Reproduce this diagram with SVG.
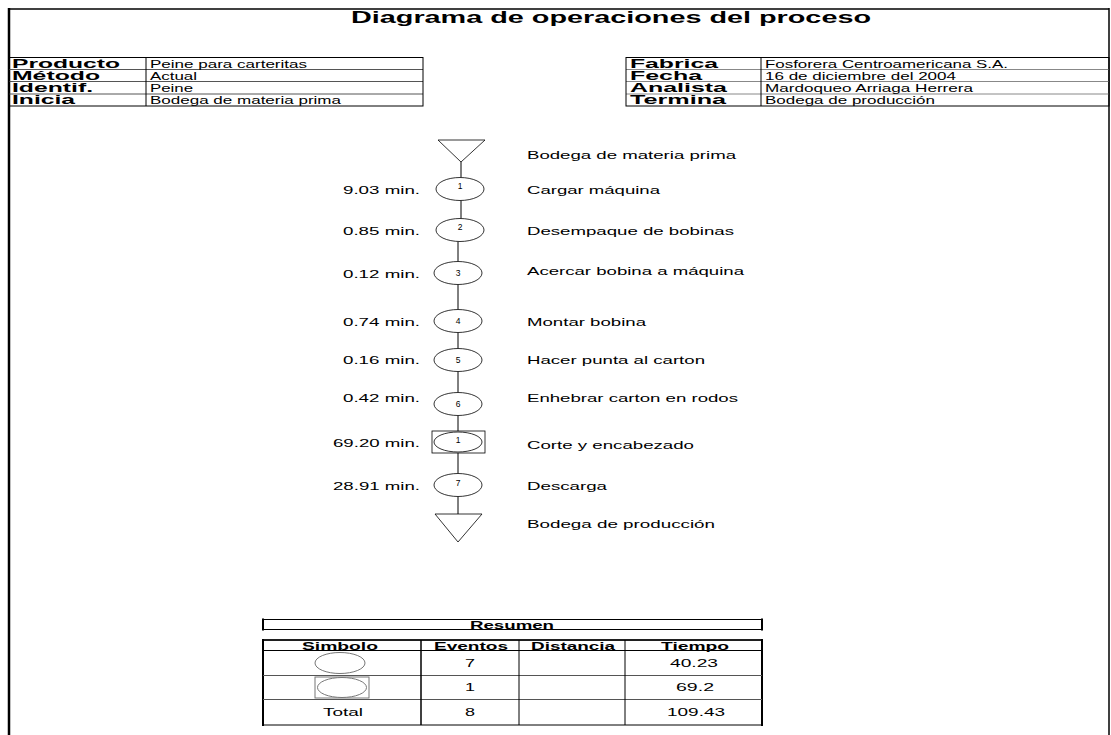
<svg xmlns="http://www.w3.org/2000/svg" width="1111" height="735" viewBox="0 0 1111 735">
  <style>
    .cell { fill: none; stroke: #000; stroke-width: 1; }
    .inner { stroke: #555; stroke-width: 1; }
    .innerR { stroke: #888; stroke-width: 1; }
    .title { font: bold 16px "Liberation Sans", Arial, sans-serif; fill: #000; }
    .lbl { font: bold 12px "Liberation Sans", Arial, sans-serif; fill: #000; }
    .val { font: 10.5px "Liberation Sans", Arial, sans-serif; fill: #000; }
    .flow { font: 11.5px "Liberation Sans", Arial, sans-serif; fill: #000; }
    .time { font: 11.5px "Liberation Sans", Arial, sans-serif; fill: #000; text-anchor: end; }
    .num { font: 8.5px "Liberation Sans", Arial, sans-serif; fill: #000; text-anchor: middle; }
    .op { fill: #fff; stroke: #000; stroke-width: 0.8; }
    .sym { fill: #fff; stroke: #777; stroke-width: 1; }
    .th { font: bold 10.5px "Liberation Sans", Arial, sans-serif; fill: #000; text-anchor: middle; }
    .td { font: 11px "Liberation Sans", Arial, sans-serif; fill: #000; text-anchor: middle; }
    .conn line { stroke: #000; stroke-width: 1; }
  </style>

  <rect width="1111" height="735" fill="#fff"/>

  <!-- page frame -->
  <line x1="9" y1="9" x2="1109" y2="9" stroke="#000" stroke-width="1.5"/>
  <line x1="9" y1="8" x2="9" y2="735" stroke="#000" stroke-width="2.5"/>
  <line x1="1109" y1="8" x2="1109" y2="735" stroke="#000" stroke-width="1.5"/>

  <text class="title" x="351" y="23" textLength="520" lengthAdjust="spacingAndGlyphs">Diagrama de operaciones del proceso</text>

  <!-- header info, left -->
  <g id="info-left">
    <line class="inner" x1="9" y1="69.5" x2="423" y2="69.5"/>
    <line class="inner" x1="9" y1="81.5" x2="423" y2="81.5"/>
    <line class="inner" x1="9" y1="94" x2="423" y2="94"/>
    <line class="cell" x1="146" y1="57.5" x2="146" y2="106"/>
    <rect class="cell" x="9" y="57.5" width="414" height="48.5" stroke-width="1.3"/>
    <text class="lbl" x="12" y="67.5" textLength="108" lengthAdjust="spacingAndGlyphs">Producto</text>
    <text class="lbl" x="12" y="79.5" textLength="88" lengthAdjust="spacingAndGlyphs">Método</text>
    <text class="lbl" x="12" y="92" textLength="81" lengthAdjust="spacingAndGlyphs">Identif.</text>
    <text class="lbl" x="12" y="104" textLength="63" lengthAdjust="spacingAndGlyphs">Inicia</text>
    <text class="val" x="150" y="67.5" textLength="157" lengthAdjust="spacingAndGlyphs">Peine para carteritas</text>
    <text class="val" x="150" y="79.5" textLength="47" lengthAdjust="spacingAndGlyphs">Actual</text>
    <text class="val" x="150" y="92" textLength="43" lengthAdjust="spacingAndGlyphs">Peine</text>
    <text class="val" x="150" y="104" textLength="191" lengthAdjust="spacingAndGlyphs">Bodega de materia prima</text>
  </g>

  <!-- header info, right -->
  <g id="info-right">
    <line class="innerR" x1="626" y1="69.5" x2="1109" y2="69.5"/>
    <line class="innerR" x1="626" y1="81.5" x2="1109" y2="81.5"/>
    <line class="innerR" x1="626" y1="94" x2="1109" y2="94"/>
    <line class="cell" x1="761" y1="57.5" x2="761" y2="106"/>
    <rect class="cell" x="626" y="57.5" width="483" height="48.5" stroke-width="1.3"/>
    <text class="lbl" x="630" y="67.5" textLength="88" lengthAdjust="spacingAndGlyphs">Fabrica</text>
    <text class="lbl" x="630" y="79.5" textLength="72" lengthAdjust="spacingAndGlyphs">Fecha</text>
    <text class="lbl" x="630" y="92" textLength="97" lengthAdjust="spacingAndGlyphs">Analista</text>
    <text class="lbl" x="630" y="104" textLength="96" lengthAdjust="spacingAndGlyphs">Termina</text>
    <text class="val" x="765" y="67.5" textLength="243" lengthAdjust="spacingAndGlyphs">Fosforera Centroamericana S.A.</text>
    <text class="val" x="765" y="79.5" textLength="191" lengthAdjust="spacingAndGlyphs">16 de diciembre del 2004</text>
    <text class="val" x="765" y="92" textLength="208" lengthAdjust="spacingAndGlyphs">Mardoqueo Arriaga Herrera</text>
    <text class="val" x="765" y="104" textLength="170" lengthAdjust="spacingAndGlyphs">Bodega de producción</text>
  </g>

  <!-- connectors between process steps -->
  <g id="connectors" class="conn">
    <line x1="461" y1="162" x2="461" y2="177.5"/>
    <line x1="461" y1="200.5" x2="461" y2="218.5"/>
    <line x1="458" y1="241.5" x2="458" y2="261.5"/>
    <line x1="458" y1="284.5" x2="458" y2="309.5"/>
    <line x1="458" y1="332.5" x2="458" y2="348.5"/>
    <line x1="458" y1="371.5" x2="458" y2="392.5"/>
    <line x1="458" y1="415.5" x2="458" y2="431"/>
    <line x1="458" y1="453" x2="458" y2="473.5"/>
    <line x1="458" y1="496.5" x2="458" y2="514"/>
  </g>

  <!-- process steps -->
  <g id="store-start">
    <polygon class="op" points="438,140 485,140 461,162"/>
    <text class="flow" x="527" y="158.5" textLength="209" lengthAdjust="spacingAndGlyphs">Bodega de materia prima</text>
  </g>
  <g id="op-1">
    <ellipse class="op" cx="460" cy="189" rx="24" ry="11.5"/>
    <text class="num" x="460" y="189">1</text>
    <text class="time" x="420" y="193.5" textLength="77" lengthAdjust="spacingAndGlyphs">9.03 min.</text>
    <text class="flow" x="527" y="193.5" textLength="133" lengthAdjust="spacingAndGlyphs">Cargar máquina</text>
  </g>
  <g id="op-2">
    <ellipse class="op" cx="460" cy="230" rx="24" ry="11.5"/>
    <text class="num" x="460" y="230">2</text>
    <text class="time" x="420" y="234.5" textLength="77" lengthAdjust="spacingAndGlyphs">0.85 min.</text>
    <text class="flow" x="527" y="234.5" textLength="207" lengthAdjust="spacingAndGlyphs">Desempaque de bobinas</text>
  </g>
  <g id="op-3">
    <ellipse class="op" cx="458" cy="273" rx="24" ry="11.5"/>
    <text class="num" x="458" y="276">3</text>
    <text class="time" x="420" y="277.5" textLength="77" lengthAdjust="spacingAndGlyphs">0.12 min.</text>
    <text class="flow" x="527" y="275" textLength="217" lengthAdjust="spacingAndGlyphs">Acercar bobina a máquina</text>
  </g>
  <g id="op-4">
    <ellipse class="op" cx="458" cy="321" rx="24" ry="11.5"/>
    <text class="num" x="458" y="324">4</text>
    <text class="time" x="420" y="325.5" textLength="77" lengthAdjust="spacingAndGlyphs">0.74 min.</text>
    <text class="flow" x="527" y="325.5" textLength="119" lengthAdjust="spacingAndGlyphs">Montar bobina</text>
  </g>
  <g id="op-5">
    <ellipse class="op" cx="458" cy="360" rx="24" ry="11.5"/>
    <text class="num" x="458" y="363">5</text>
    <text class="time" x="420" y="364" textLength="77" lengthAdjust="spacingAndGlyphs">0.16 min.</text>
    <text class="flow" x="527" y="364" textLength="178" lengthAdjust="spacingAndGlyphs">Hacer punta al carton</text>
  </g>
  <g id="op-6">
    <ellipse class="op" cx="458" cy="404" rx="24" ry="11.5"/>
    <text class="num" x="458" y="407">6</text>
    <text class="time" x="420" y="401.5" textLength="77" lengthAdjust="spacingAndGlyphs">0.42 min.</text>
    <text class="flow" x="527" y="401.5" textLength="211" lengthAdjust="spacingAndGlyphs">Enhebrar carton en rodos</text>
  </g>
  <g id="combined-1">
    <rect class="op" x="432" y="431" width="53" height="22"/>
    <ellipse class="op" cx="458" cy="442" rx="24" ry="10"/>
    <text class="num" x="458" y="443">1</text>
    <text class="time" x="420" y="446.5" textLength="87" lengthAdjust="spacingAndGlyphs">69.20 min.</text>
    <text class="flow" x="527" y="449" textLength="167" lengthAdjust="spacingAndGlyphs">Corte y encabezado</text>
  </g>
  <g id="op-7">
    <ellipse class="op" cx="458" cy="485" rx="24" ry="11.5"/>
    <text class="num" x="458" y="486">7</text>
    <text class="time" x="420" y="489.5" textLength="87" lengthAdjust="spacingAndGlyphs">28.91 min.</text>
    <text class="flow" x="527" y="489.5" textLength="80" lengthAdjust="spacingAndGlyphs">Descarga</text>
  </g>
  <g id="store-end">
    <polygon class="op" points="435,514 482,514 458,542"/>
    <text class="flow" x="527" y="527.5" textLength="188" lengthAdjust="spacingAndGlyphs">Bodega de producción</text>
  </g>

  <!-- summary -->
  <g id="summary-title">
    <rect class="cell" x="263" y="619.5" width="499" height="10" stroke-width="1.3"/>
    <line x1="263" y1="618.5" x2="263" y2="630.5" stroke="#000" stroke-width="2"/>
    <line x1="762" y1="618.5" x2="762" y2="630.5" stroke="#000" stroke-width="2"/>
    <text class="th" x="512" y="628.5" textLength="84" lengthAdjust="spacingAndGlyphs">Resumen</text>
  </g>
  <g id="summary-table">
    <rect class="cell" x="263" y="640" width="499" height="85"/>
    <line x1="263" y1="639" x2="263" y2="726" stroke="#000" stroke-width="2"/>
    <line x1="762" y1="639" x2="762" y2="726" stroke="#000" stroke-width="2"/>
    <line x1="263" y1="640" x2="762" y2="640" stroke="#000" stroke-width="1.5"/>
    <line class="cell" x1="263" y1="650.5" x2="762" y2="650.5"/>
    <line class="inner" x1="263" y1="675.5" x2="762" y2="675.5" stroke="#777"/>
    <line class="inner" x1="263" y1="699.5" x2="762" y2="699.5" stroke="#777"/>
    <line x1="421" y1="640" x2="421" y2="725" stroke="#000" stroke-width="1.5"/>
    <line class="cell" x1="519" y1="640" x2="519" y2="725"/>
    <line class="cell" x1="625" y1="640" x2="625" y2="725"/>
    <text class="th" x="340" y="649.5" textLength="76" lengthAdjust="spacingAndGlyphs">Simbolo</text>
    <text class="th" x="471" y="649.5" textLength="74" lengthAdjust="spacingAndGlyphs">Eventos</text>
    <text class="th" x="573" y="649.5" textLength="84" lengthAdjust="spacingAndGlyphs">Distancia</text>
    <text class="th" x="695" y="649.5" textLength="68" lengthAdjust="spacingAndGlyphs">Tiempo</text>

    <ellipse class="sym" cx="340" cy="663" rx="25" ry="10.5"/>
    <text class="td" x="470" y="667" textLength="10" lengthAdjust="spacingAndGlyphs">7</text>
    <text class="td" x="694" y="667" textLength="48" lengthAdjust="spacingAndGlyphs">40.23</text>

    <rect class="sym" x="315" y="677" width="54" height="21"/>
    <ellipse class="sym" cx="342" cy="687.5" rx="24.5" ry="10"/>
    <text class="td" x="470" y="691" textLength="10" lengthAdjust="spacingAndGlyphs">1</text>
    <text class="td" x="695" y="691" textLength="38" lengthAdjust="spacingAndGlyphs">69.2</text>

    <text class="td" x="343" y="716" textLength="40" lengthAdjust="spacingAndGlyphs">Total</text>
    <text class="td" x="470" y="716" textLength="10" lengthAdjust="spacingAndGlyphs">8</text>
    <text class="td" x="696" y="716" textLength="58" lengthAdjust="spacingAndGlyphs">109.43</text>
  </g>
</svg>
